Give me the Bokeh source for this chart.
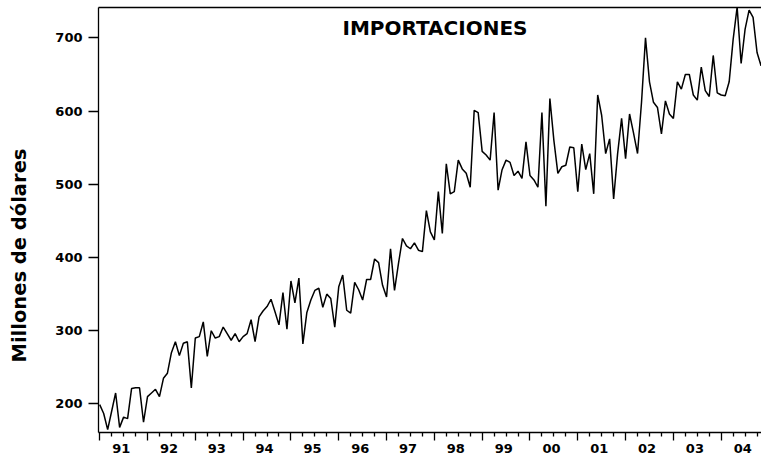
from bokeh.plotting import figure
from bokeh.models import (Range1d, LinearAxis, FixedTicker, Label, Title,
                          ColumnDataSource, CustomLabelingPolicy)
from bokeh.embed import file_html
from bokeh.resources import INLINE

# Monthly imports (millions of dollars), Jan 1991 onward
imp_1991 = [199, 187, 165, 190, 215, 168, 182, 180, 221, 222, 222, 175]
imp_1992 = [210, 215, 220, 210, 235, 242, 270, 285, 266, 283, 285, 222]
imp_1993 = [290, 292, 312, 265, 300, 290, 292, 305, 296, 287, 296, 285]
imp_1994 = [292, 296, 315, 285, 319, 327, 333, 343, 326, 308, 352, 302]
imp_1995 = [368, 338, 372, 282, 325, 342, 355, 358, 332, 350, 344, 305]
imp_1996 = [360, 376, 328, 324, 366, 356, 342, 370, 370, 398, 393, 362]
imp_1997 = [346, 412, 355, 392, 426, 416, 412, 420, 410, 408, 464, 435]
imp_1998 = [424, 490, 433, 528, 487, 490, 533, 521, 515, 496, 601, 598]
imp_1999 = [545, 540, 533, 598, 492, 520, 533, 530, 512, 518, 508, 558]
imp_2000 = [512, 506, 496, 598, 470, 617, 560, 515, 524, 526, 551, 550]
imp_2001 = [490, 555, 520, 542, 487, 622, 594, 542, 562, 480, 542, 590]
imp_2002 = [535, 596, 570, 542, 612, 700, 640, 612, 605, 569, 614, 596]
imp_2003 = [590, 640, 630, 650, 650, 622, 615, 660, 628, 620, 676, 625]
imp_2004 = [622, 621, 640, 698, 742, 665, 712, 738, 728, 680, 662, 690]

year_labels = ["91", "92", "93", "94", "95", "96", "97", "98", "99", "00", "01", "02", "03", "04"]
y_ticks = [200, 300, 400, 500, 600, 700]
first_year = 1991

series = [imp_1991, imp_1992, imp_1993, imp_1994, imp_1995, imp_1996, imp_1997,
          imp_1998, imp_1999, imp_2000, imp_2001, imp_2002, imp_2003, imp_2004]
values = [v for yr in series for v in yr]
t = [first_year + i / 12 for i in range(len(values))]
src = ColumnDataSource(data=dict(t=t, v=values))

years = [first_year + k for k in range(len(year_labels) + 1)]
quarters = [y + q for y in years for q in (0.25, 0.5, 0.75)]
label_pos = [first_year + k + 0.45 for k in range(len(year_labels))]

# layout constants
W, H = 761, 459
FL, FR, FT, FB = 97, 761, 7, 432     # frame left / right / top / bottom (px)
PX_PER_YEAR = 47.88
X0 = 1990.975
X1 = X0 + (FR - FL) / PX_PER_YEAR
Y0, Y1 = 161, 741.5

FONT = "DejaVu Sans"
LW = 1.3

p = figure(width=W, height=H, x_range=Range1d(X0, X1), y_range=Range1d(Y0, Y1),
           output_backend="svg", toolbar_location=None,
           x_axis_type=None, y_axis_type=None,
           min_border_left=FL, min_border_right=0, min_border_top=FT,
           min_border_bottom=H - FB)
p.outline_line_color = None
p.grid.visible = False
p.background_fill_color = "white"
p.border_fill_color = "white"

no_labels = CustomLabelingPolicy(code="for (const i of indices) { indices.unset(i) }\nreturn indices")

yaxis = LinearAxis(ticker=FixedTicker(ticks=y_ticks, minor_ticks=[]),
                   major_tick_out=10, major_tick_in=0, minor_tick_out=0, minor_tick_in=0,
                   major_label_standoff=6, major_label_text_font=FONT,
                   major_label_text_font_style="bold", major_label_text_font_size="13px",
                   major_label_text_color="black",
                   axis_line_width=LW, major_tick_line_width=LW, axis_line_color="black",
                   major_tick_line_color="black")
p.add_layout(yaxis, "left")

# invisible spacer between the tick labels and the rotated axis title
spacer = LinearAxis(ticker=FixedTicker(ticks=[y_ticks[2]], minor_ticks=[]),
                    major_tick_out=17, major_tick_in=0, minor_tick_out=0, minor_tick_in=0,
                    major_label_standoff=0, major_label_text_font_size="0px",
                    major_label_policy=no_labels,
                    axis_line_color=None, major_tick_line_color=None, minor_tick_line_color=None)
p.add_layout(spacer, "left")

xaxis1 = LinearAxis(ticker=FixedTicker(ticks=years, minor_ticks=quarters),
                    major_tick_out=8, major_tick_in=0, minor_tick_out=4, minor_tick_in=0,
                    major_label_text_font_size="0px", major_label_standoff=0,
                    major_label_policy=no_labels,
                    axis_line_width=LW, major_tick_line_width=LW, minor_tick_line_width=LW,
                    axis_line_color="black", major_tick_line_color="black",
                    minor_tick_line_color="black")
p.add_layout(xaxis1, "below")

xaxis2 = LinearAxis(ticker=FixedTicker(ticks=label_pos, minor_ticks=[]),
                    major_label_overrides={m: lab for m, lab in zip(label_pos, year_labels)},
                    major_tick_out=0, major_tick_in=0, minor_tick_out=0, minor_tick_in=0,
                    axis_line_color=None, major_tick_line_color=None, minor_tick_line_color=None,
                    major_label_standoff=3, major_label_text_font=FONT,
                    major_label_text_font_style="bold", major_label_text_font_size="13px",
                    major_label_text_color="black")
p.add_layout(xaxis2, "below")

top_axis = LinearAxis(ticker=FixedTicker(ticks=[], minor_ticks=[]),
                      major_tick_out=0, major_tick_in=0, minor_tick_out=0, minor_tick_in=0,
                      major_label_standoff=0, major_label_text_font_size="0px",
                      axis_line_width=LW, axis_line_color="black")
p.add_layout(top_axis, "above")

p.line("t", "v", source=src, line_color="black", line_width=1.5)

px_per_unit = (FB - FT) / (Y1 - Y0)
title = Label(x=X0 + (434 - FL) / PX_PER_YEAR, y=Y1 - (27 - FT) / px_per_unit,
              text="IMPORTACIONES", text_align="center", text_baseline="middle",
              text_font=FONT, text_font_style="bold", text_font_size="20px", text_color="black")
p.add_layout(title)

ylab = Title(text="Millones de dólares", align="left", offset=FB - 362,
             text_font=FONT, text_font_style="bold", text_font_size="19.5px",
             text_color="black", standoff=10)
p.add_layout(ylab, "left")

open("out.html", "w").write(file_html(p, INLINE))
